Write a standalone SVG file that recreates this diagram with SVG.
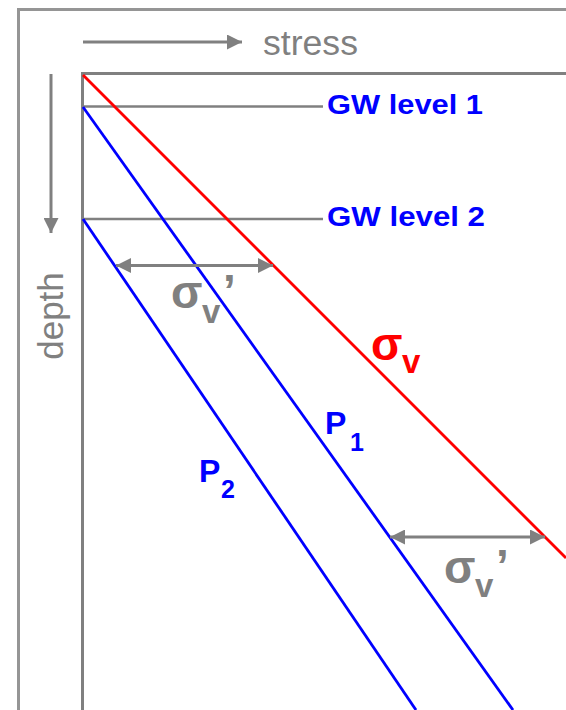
<svg xmlns="http://www.w3.org/2000/svg" width="566" height="710" viewBox="0 0 566 710">
<style>
.frame{fill:none;stroke:#959595;stroke-width:3}
.axis{fill:none;stroke:#808080;stroke-width:3}
.gw{fill:none;stroke:#808080;stroke-width:2.5}
.dim{fill:none;stroke:#808080;stroke-width:3}
.red{fill:none;stroke:#ff0000;stroke-width:2.8}
.blue{fill:none;stroke:#0000ff;stroke-width:2.8}
.lbl{font-family:"Liberation Sans",Arial,sans-serif;fill:#808080;font-size:35px}
.gwt{font-family:"Liberation Sans",Arial,sans-serif;fill:#0000ff;font-size:28px;font-weight:bold}
.sig{font-family:"Liberation Sans",Arial,sans-serif;font-weight:bold}
</style>
<defs>
<marker id="ah" viewBox="0 0 10 10" refX="10" refY="5" markerWidth="5" markerHeight="5" markerUnits="strokeWidth" orient="auto-start-reverse">
<path d="M0,0 L10,5 L0,10 Z" fill="#808080"/>
</marker>
</defs>
<rect width="566" height="710" fill="#ffffff"/>
<path class="frame" d="M18.5,710 V9.5 H566"/>
<g id="stress-axis">
<line class="dim" x1="83" y1="42" x2="242" y2="42" marker-end="url(#ah)"/>
<text class="lbl" x="263" y="55" textLength="95" lengthAdjust="spacingAndGlyphs">stress</text>
</g>
<g id="depth-axis">
<line class="dim" x1="51" y1="74" x2="51" y2="233" marker-end="url(#ah)"/>
<text class="lbl" text-anchor="middle" transform="translate(63,316) rotate(-90)">depth</text>
</g>
<g id="axes">
<path class="axis" d="M566,73.5 H82.5 V710"/>
</g>
<g id="gw1">
<line class="gw" x1="83" y1="106.5" x2="323" y2="106.5"/>
<text class="gwt" x="327" y="113.5" textLength="156" lengthAdjust="spacingAndGlyphs">GW level 1</text>
</g>
<g id="gw2">
<line class="gw" x1="83" y1="219" x2="323" y2="219"/>
<text class="gwt" x="327" y="226" textLength="158" lengthAdjust="spacingAndGlyphs">GW level 2</text>
</g>
<g id="connectors">
<line class="red" x1="83" y1="75" x2="566" y2="558"/>
<line class="blue" x1="83" y1="107" x2="513" y2="710"/>
<line class="blue" x1="83" y1="219" x2="416" y2="710"/>
<line class="dim" x1="116" y1="265.5" x2="273" y2="265.5" marker-start="url(#ah)" marker-end="url(#ah)"/>
<line class="dim" x1="390" y1="537" x2="545" y2="537" marker-start="url(#ah)" marker-end="url(#ah)"/>
</g>
<g id="sigma-v">
<text class="sig" fill="#ff0000"><tspan x="371" y="360" font-size="46">σ</tspan><tspan x="402" y="373" font-size="33">v</tspan></text>
</g>
<g id="p1">
<text class="sig" fill="#0000ff"><tspan x="325" y="434" font-size="32">P</tspan><tspan x="350" y="451" font-size="25">1</tspan></text>
</g>
<g id="p2">
<text class="sig" fill="#0000ff"><tspan x="199" y="482" font-size="32">P</tspan><tspan x="221" y="498" font-size="25">2</tspan></text>
</g>
<g id="sigma-v-eff-1">
<text class="sig" fill="#808080"><tspan x="171" y="308" font-size="46">σ</tspan><tspan x="202" y="323" font-size="33">v</tspan><tspan x="223" y="307" font-size="46">’</tspan></text>
</g>
<g id="sigma-v-eff-2">
<text class="sig" fill="#808080"><tspan x="444" y="583" font-size="46">σ</tspan><tspan x="475" y="597" font-size="33">v</tspan><tspan x="496" y="582" font-size="46">’</tspan></text>
</g>
</svg>
